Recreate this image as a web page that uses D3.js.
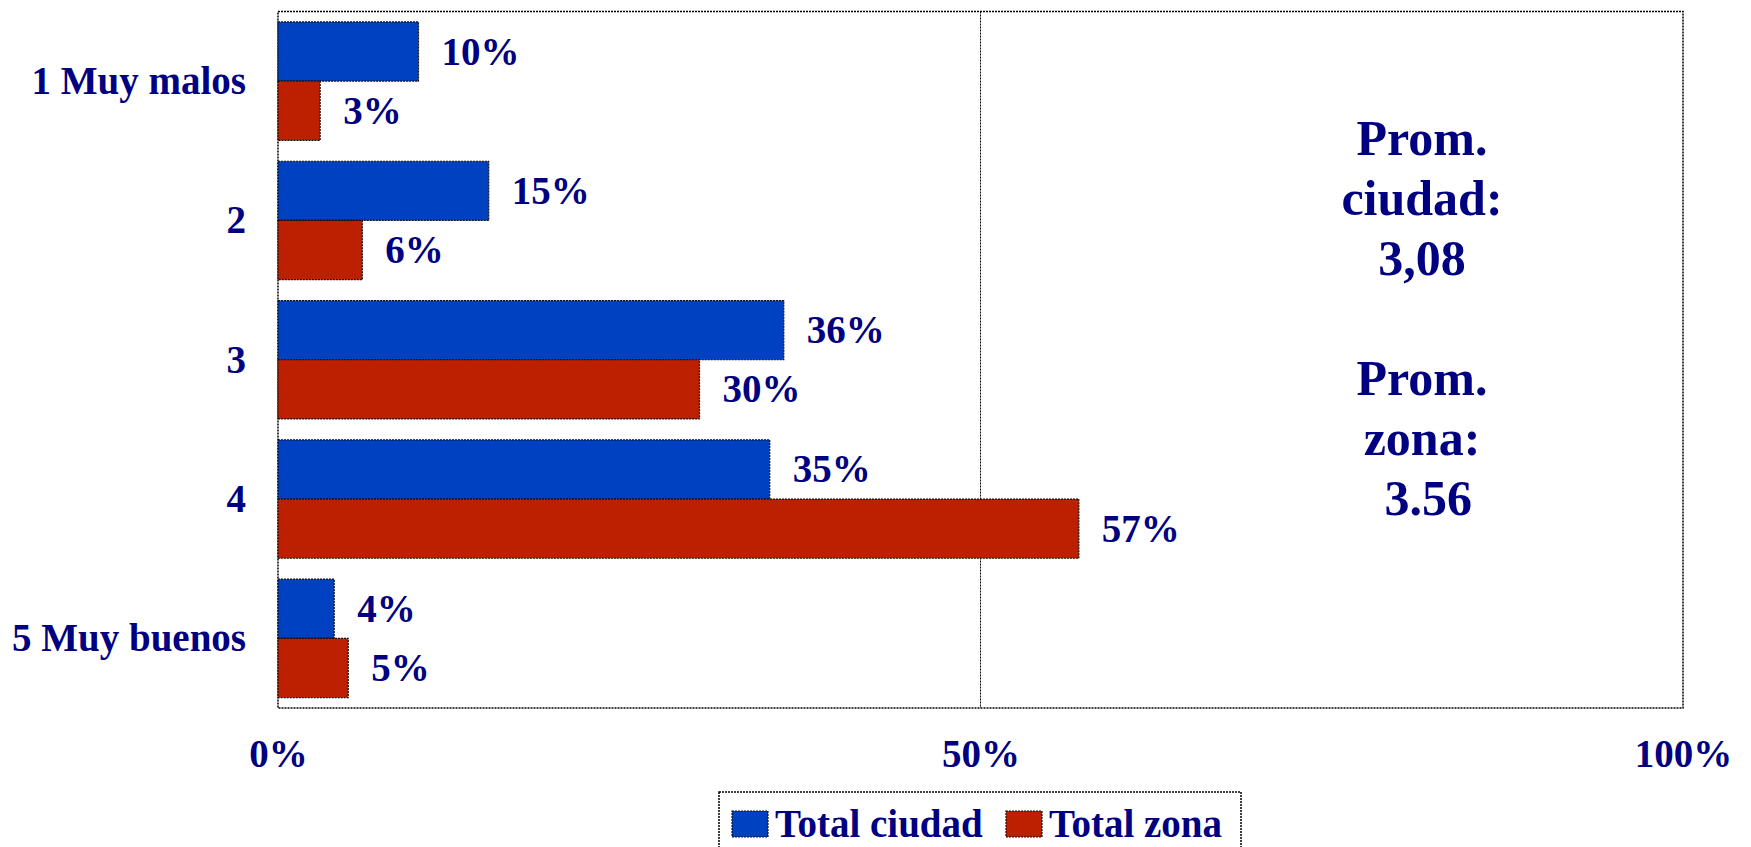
<!DOCTYPE html>
<html>
<head>
<meta charset="utf-8">
<script src="https://cdn.jsdelivr.net/npm/d3@7"></script>
<style>
  html, body { margin: 0; padding: 0; background: #fff; }
  svg { display: block; }
  text { font-family: "Liberation Serif", "Times New Roman", serif; font-weight: bold; fill: #000080; }
</style>
</head>
<body>
<svg id="chart" width="1751" height="847"></svg>
<script>
const categories = ["1 Muy malos", "2", "3", "4", "5 Muy buenos"];
const seriesNames = ["Total ciudad", "Total zona"];
const ciudadValues = [10, 15, 36, 35, 4];
const zonaValues = [3, 6, 30, 57, 5];
const xTicks = [0, 50, 100];
const seriesColors = ["#0041C2", "#BD2000"];
const noteLines = ["Prom.", "ciudad:", "3,08", "", "Prom.", "zona:", "\u00a03.56"];

(function () {
const svg = d3.select("#chart");
const pL = 278, pR = 1683, pT = 11.5, pB = 708;

const x = d3.scaleLinear().domain([0, 100]).range([pL, pR]);
const y = d3.scaleBand().domain(categories).range([pT, pB]).paddingInner(0.15).paddingOuter(0.075);
const sub = d3.scaleBand().domain(seriesNames).range([0, y.bandwidth()]);

const rows = categories.map((c, i) => ({ cat: c, vals: [ciudadValues[i], zonaValues[i]] }));

// plot frame
svg.append("rect")
  .attr("x", pL).attr("y", pT).attr("width", pR - pL).attr("height", pB - pT)
  .attr("fill", "#fff").attr("stroke", "#000").attr("stroke-width", 1.5).attr("stroke-dasharray", "2,1");

// gridline at 50%
svg.append("line")
  .attr("x1", x(50)).attr("x2", x(50)).attr("y1", pT).attr("y2", pB)
  .attr("stroke", "#000").attr("stroke-width", 1).attr("stroke-dasharray", "2,1");

// bars
const g = svg.append("g");
rows.forEach(r => {
  r.vals.forEach((v, j) => {
    const yy = y(r.cat) + sub(seriesNames[j]);
    g.append("rect")
      .attr("x", x(0)).attr("y", yy)
      .attr("width", x(v) - x(0)).attr("height", sub.bandwidth())
      .attr("fill", seriesColors[j]).attr("stroke", "#111").attr("stroke-width", 1.2).attr("stroke-dasharray", "2,1");
    g.append("text")
      .attr("x", x(v) + 23).attr("y", yy + sub.bandwidth() / 2 + 13)
      .attr("font-size", 39)
      .text(v + "%");
  });
});

// category labels
svg.append("g").selectAll("text").data(categories).join("text")
  .attr("x", 246).attr("y", d => y(d) + y.bandwidth() / 2 + 13)
  .attr("text-anchor", "end").attr("font-size", 39)
  .text(d => d);

// x axis tick labels
const xAxis = d3.axisBottom(x).tickValues(xTicks).tickFormat(d => d + "%").tickSize(0).tickPadding(0);
const ax = svg.append("g").attr("transform", `translate(0,${pB})`).call(xAxis);
ax.select(".domain").remove();
ax.selectAll("text")
  .attr("font-size", 39).attr("dy", null).attr("y", 59)
  .style("font-family", '"Liberation Serif", "Times New Roman", serif')
  .style("font-weight", "bold").attr("fill", "#000080");

// averages note
svg.append("g").selectAll("text").data(noteLines).join("text")
  .attr("x", 1422).attr("y", (d, i) => 155 + i * 60)
  .attr("text-anchor", "middle").attr("font-size", 50)
  .text(d => d);

// legend
const lg = svg.append("g");
lg.append("rect")
  .attr("x", 719).attr("y", 792).attr("width", 522).attr("height", 70)
  .attr("fill", "#fff").attr("stroke", "#000").attr("stroke-width", 1.5).attr("stroke-dasharray", "2,1");
const legendX = [732, 1006];
seriesNames.forEach((s, j) => {
  lg.append("rect")
    .attr("x", legendX[j]).attr("y", 811).attr("width", 36).attr("height", 26)
    .attr("fill", seriesColors[j]).attr("stroke", "#111").attr("stroke-width", 1.2).attr("stroke-dasharray", "2,1");
  lg.append("text")
    .attr("x", legendX[j] + 43).attr("y", 837)
    .attr("font-size", 39)
    .text(s);
});
})();
</script>
</body>
</html>
